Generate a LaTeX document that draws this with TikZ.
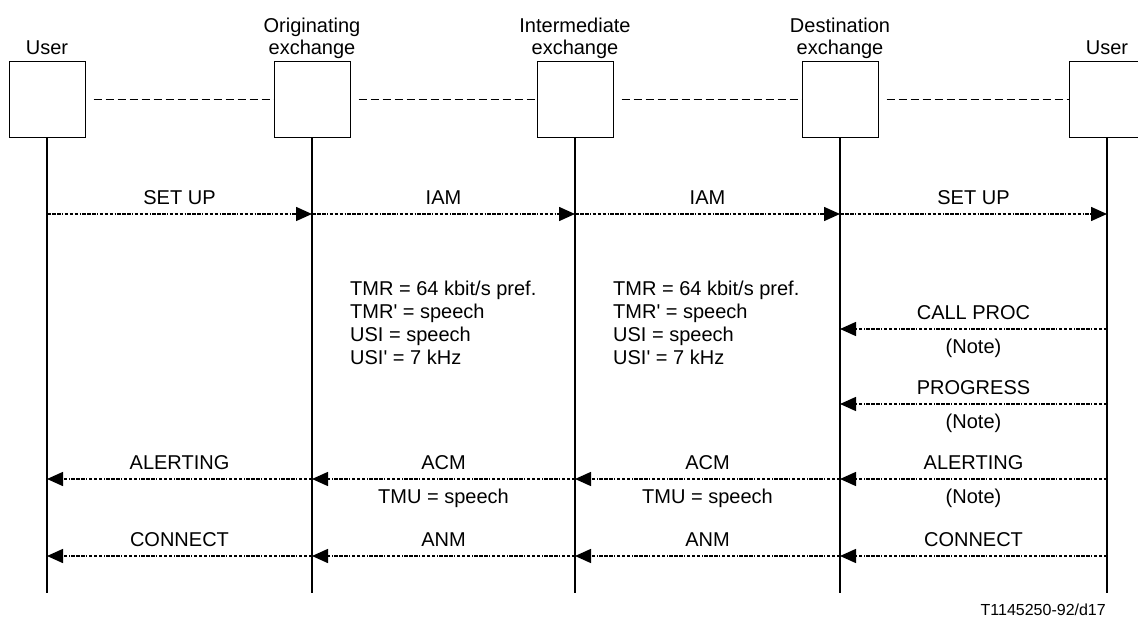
\documentclass[tikz,border=0pt]{standalone}
\usepackage{fontspec}
\setmainfont{Liberation Sans}
\usetikzlibrary{positioning, arrows.meta}
\tikzset{
    ent/.style={rectangle, draw=black, line width=1pt, minimum size=76pt, inner sep=0pt},
    ttl/.style={align=center, inner sep=0pt, text depth=0pt, font=\fontsize{20}{21.5}\selectfont},
    life/.style={line width=2pt},
    link/.style={line width=1pt, dash pattern=on 8pt off 4pt, shorten <=8pt},
    msg/.style={line width=1.5pt, dash pattern=on 3.5pt off 1.5pt on 3.5pt off 1.5pt on 3.5pt off 1.5pt on 1pt off 1.5pt, -{Triangle[length=16pt, width=14pt]}},
    lab/.style={above, inner sep=0pt, text depth=0pt, yshift=9pt},
    note/.style={below, inner sep=0pt, text height=14.3pt, text depth=0pt, yshift=-9pt},
    info/.style={align=left, inner sep=0pt, anchor=north west, font=\fontsize{20}{23}\selectfont},
    tag/.style={inner sep=0pt, anchor=base east, font=\fontsize{16}{18}\selectfont},
}
\newcommand{\q}{\textquotesingle}

\begin{document}
\begin{tikzpicture}[x=1pt, y=-1pt, font=\fontsize{20}{23}\selectfont]
    \useasboundingbox (0,0) rectangle (1138,617);
    % entities
    \node [ent] (ua) at (47,100) {};
    \node [ent] (oe) at (312,100) {};
    \node [ent] (ie) at (575,100) {};
    \node [ent] (de) at (840,100) {};
    \node [ent] (ub) at (1107,100) {};
    \node [ttl] (tua) [above=7pt of ua] {User};
    \node [ttl] (toe) [above=7pt of oe] {Originating\\exchange};
    \node [ttl] (tie) [above=7pt of ie] {Intermediate\\exchange};
    \node [ttl] (tde) [above=7pt of de] {Destination\\exchange};
    \node [ttl] (tub) [above=7pt of ub] {User};
    \draw[link] (ua) -- (oe);
    \draw[link] (oe) -- (ie);
    \draw[link] (ie) -- (de);
    \draw[link] (de) -- (ub);
    % lifelines
    \coordinate (uax) at (47,593);
    \coordinate (oex) at (312,593);
    \coordinate (iex) at (575,593);
    \coordinate (dex) at (840,593);
    \coordinate (ubx) at (1107,593);
    \draw[life] (ua) -- (uax);
    \draw[life] (oe) -- (oex);
    \draw[life] (ie) -- (iex);
    \draw[life] (de) -- (dex);
    \draw[life] (ub) -- (ubx);
    % message rows
    \coordinate (r1) at (0,214);
    \coordinate (r2) at (0,329);
    \coordinate (r3) at (0,404);
    \coordinate (r4) at (0,479);
    \coordinate (r5) at (0,556);
    \draw[msg] (uax |- r1) -- node[lab] (m1) {SET UP} (oex |- r1);
    \draw[msg] (oex |- r1) -- node[lab] (m2) {IAM} (iex |- r1);
    \draw[msg] (iex |- r1) -- node[lab] (m3) {IAM} (dex |- r1);
    \draw[msg] (dex |- r1) -- node[lab] (m4) {SET UP} (ubx |- r1);
    \draw[msg] (ubx |- r2) -- node[lab] (m5) {CALL PROC} node[note] (n1) {(Note)} (dex |- r2);
    \draw[msg] (ubx |- r3) -- node[lab] (m6) {PROGRESS} node[note] (n2) {(Note)} (dex |- r3);
    \draw[msg] (ubx |- r4) -- node[lab] (m7) {ALERTING} node[note] (n3) {(Note)} (dex |- r4);
    \draw[msg] (dex |- r4) -- node[lab] (m8) {ACM} node[note] (n4) {TMU = speech} (iex |- r4);
    \draw[msg] (iex |- r4) -- node[lab] (m9) {ACM} node[note] (n5) {TMU = speech} (oex |- r4);
    \draw[msg] (oex |- r4) -- node[lab] (m10) {ALERTING} (uax |- r4);
    \draw[msg] (ubx |- r5) -- node[lab] (m11) {CONNECT} (dex |- r5);
    \draw[msg] (dex |- r5) -- node[lab] (m12) {ANM} (iex |- r5);
    \draw[msg] (iex |- r5) -- node[lab] (m13) {ANM} (oex |- r5);
    \draw[msg] (oex |- r5) -- node[lab] (m14) {CONNECT} (uax |- r5);
    % parameters
    \node [info] (pa) at (350,280.5) {TMR = 64 kbit/s pref.\\TMR\q{} = speech\\USI = speech\\USI\q{} = 7 kHz};
    \node [info] (pb) at (613,280.5) {TMR = 64 kbit/s pref.\\TMR\q{} = speech\\USI = speech\\USI\q{} = 7 kHz};
    \node [tag] (ref) at (1106,615) {T1145250-92/d17};
\end{tikzpicture}
\end{document}
